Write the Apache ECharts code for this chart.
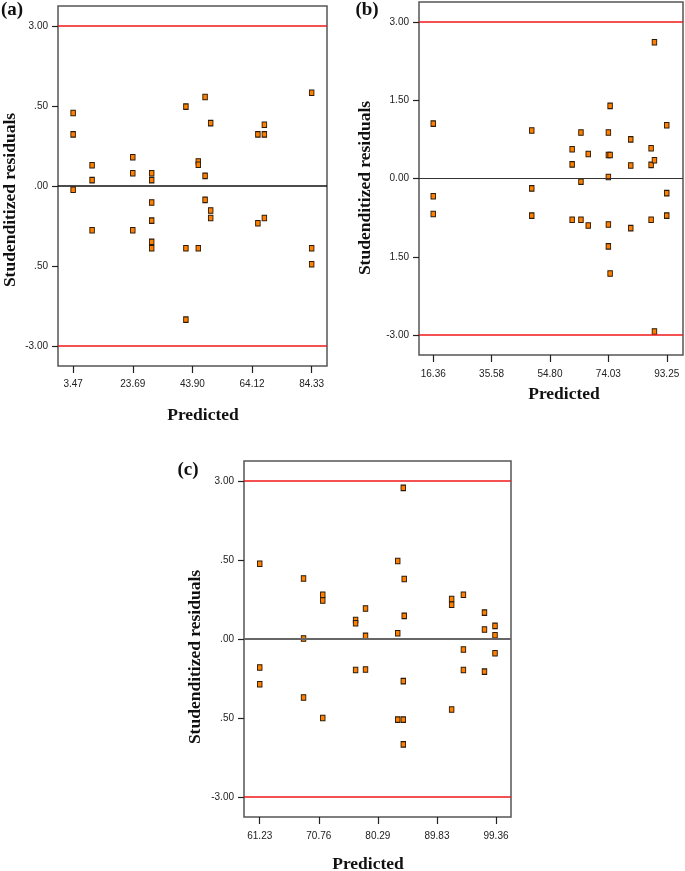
<!DOCTYPE html>
<html>
<head>
<meta charset="utf-8">
<script src="https://cdn.jsdelivr.net/npm/echarts@6/dist/echarts.min.js"></script>
<style>
html,body{margin:0;padding:0;background:#fff;}
#chart{width:685px;height:871px;}
</style>
</head>
<body>
<div id="chart"></div>
<script>
// ---- Data ----
const predA = [3.47,3.47,3.47, 9.9,9.9,9.9, 23.69,23.69,23.69, 30.1,30.1,30.1,30.1,30.1,30.1, 41.7,41.7,41.7, 45.9,45.9,45.9, 48.2,48.2,48.2, 50.1,50.1,50.1, 66.1,66.1, 68.3,68.3,68.3, 84.33,84.33,84.33];
const residA = [1.37,0.97,-0.07, 0.39,0.11,-0.83, 0.54,0.24,-0.83, 0.24,0.11,-0.31,-0.65,-1.05,-1.17, 1.49,-1.17,-2.51, 0.46,0.40,-1.17, 1.67,0.19,-0.26, 1.18,-0.46,-0.60, 0.97,-0.70, 1.15,0.97,-0.60, 1.75,-1.17,-1.47];

const predB = [16.36,16.36,16.36, 48.8,48.8,48.8, 62.1,62.1,62.1, 65.0,65.0,65.0, 67.4,67.4, 74.03,74.03,74.03,74.03,74.03, 74.6,74.6,74.6, 81.4,81.4,81.4, 88.1,88.1,88.1, 89.2,89.2,89.2, 93.25,93.25,93.25];
const residB = [1.05,-0.34,-0.68, 0.92,-0.19,-0.71, 0.56,0.27,-0.79, 0.88,-0.06,-0.79, 0.47,-0.90, 0.88,0.45,0.03,-0.88,-1.30, 1.39,0.45,-1.82, 0.75,0.25,-0.95, 0.58,0.26,-0.79, 2.61,0.35,-2.93, 1.02,-0.28,-0.71];

const predC = [61.23,61.23,61.23, 68.3,68.3,68.3, 71.4,71.4,71.4, 76.7,76.7,76.7, 78.3,78.3,78.3, 83.5,83.5,83.5, 84.4,84.4,84.4,84.4, 84.55,84.55, 92.2,92.2,92.2, 94.1,94.1,94.1, 97.5,97.5,97.5, 99.2,99.2,99.2];
const residC = [1.43,-0.54,-0.86, 1.15,0.01,-1.11, 0.84,0.73,-1.50, 0.36,0.30,-0.59, 0.58,0.06,-0.58, 1.48,0.11,-1.53, 2.87,-0.80,-1.53,-2.00, 1.14,0.44, 0.76,0.65,-1.34, 0.84,-0.20,-0.59, 0.50,0.18,-0.62, 0.25,0.07,-0.27];

const xTicksA = [3.47, 23.69, 43.90, 64.12, 84.33];
const xTicksB = [16.36, 35.58, 54.80, 74.03, 93.25];
const xTicksC = [61.23, 70.76, 80.29, 89.83, 99.36];

const yTickValues = [-3, -1.5, 0, 1.5, 3];
const yTickLabelsA = ['-3.00', '.50', '.00', '.50', '3.00'];
const yTickLabelsB = ['-3.00', '1.50', '0.00', '1.50', '3.00'];
const yTickLabelsC = ['-3.00', '.50', '.00', '.50', '3.00'];

const panelLabels = ['(a)', '(b)', '(c)'];
const xTitle = 'Predicted';
const yTitle = 'Studenditized residuals';
const limitValues = [3, -3];
// ---- End data ----

const chart = echarts.init(document.getElementById('chart'), null, {renderer: 'canvas'});

const serifBold = {fontFamily: '"Liberation Serif", "Times New Roman", serif', fontWeight: 'bold', fill: '#111'};

function zipPts(xs, ys) { return xs.map((x, i) => [x, ys[i]]); }

function makeX(idx, min, max, ticks, margin) {
  return {
    type: 'value', gridIndex: idx, min: min, max: max, position: 'bottom',
    axisLine: {show: false, onZero: false},
    splitLine: {show: false},
    axisTick: {show: true, customValues: ticks, length: 7, lineStyle: {color: '#222', width: 1.2}},
    axisLabel: {show: true, customValues: ticks, margin: margin, fontSize: 10,
      fontFamily: '"Liberation Sans", Arial, sans-serif', color: '#222',
      formatter: v => v.toFixed(2)}
  };
}
function makeY(idx, labels) {
  return {
    type: 'value', gridIndex: idx, min: -3.38, max: 3.38, position: 'left',
    axisLine: {show: false, onZero: false},
    splitLine: {show: false},
    axisTick: {show: true, customValues: yTickValues, length: 6, lineStyle: {color: '#222', width: 1.2}},
    axisLabel: {show: true, customValues: yTickValues, margin: 10, fontSize: 10,
      fontFamily: '"Liberation Sans", Arial, sans-serif', color: '#222',
      formatter: v => { const i = yTickValues.findIndex(t => Math.abs(t - v) < 1e-6); return i >= 0 ? labels[i] : ''; }}
  };
}
function lineSeries(idx, zeroColor, zeroWidth) {
  return {
    type: 'scatter', xAxisIndex: idx, yAxisIndex: idx, data: [], z: 1, silent: true,
    markLine: {
      symbol: 'none', silent: true, animation: false, label: {show: false},
      data: [
        {yAxis: limitValues[0], lineStyle: {color: '#f01818', width: 1.5, type: 'solid'}},
        {yAxis: limitValues[1], lineStyle: {color: '#f01818', width: 1.5, type: 'solid'}},
        {yAxis: 0, lineStyle: {color: zeroColor, width: zeroWidth, type: 'solid'}}
      ]
    }
  };
}
function pointSeries(idx, xs, ys) {
  return {
    type: 'scatter', xAxisIndex: idx, yAxisIndex: idx, z: 3,
    data: zipPts(xs, ys),
    symbol: 'rect', symbolSize: [4.5, 5.5],
    itemStyle: {color: '#ff8000', borderColor: '#2a1a08', borderWidth: 1, opacity: 1},
    animation: false
  };
}

const gridStyle = {show: true, borderColor: '#555', borderWidth: 1.5, backgroundColor: 'transparent', containLabel: false};

const option = {
  animation: false,
  backgroundColor: '#ffffff',
  grid: [
    Object.assign({left: 58, top: 6, width: 269, height: 360}, gridStyle),
    Object.assign({left: 419, top: 2, width: 264, height: 353}, gridStyle),
    Object.assign({left: 244, top: 461, width: 267, height: 356}, gridStyle)
  ],
  xAxis: [
    makeX(0, -1.66, 89.53, xTicksA, 13),
    makeX(1, 11.67, 98.6, xTicksB, 14),
    makeX(2, 58.69, 101.78, xTicksC, 14)
  ],
  yAxis: [
    makeY(0, yTickLabelsA),
    makeY(1, yTickLabelsB),
    makeY(2, yTickLabelsC)
  ],
  series: [
    lineSeries(0, '#111', 1.5),
    lineSeries(1, '#333', 1.2),
    lineSeries(2, '#666', 2),
    pointSeries(0, predA, residA),
    pointSeries(1, predB, residB),
    pointSeries(2, predC, residC)
  ],
  graphic: [
    {type: 'text', x: 12, y: 10, style: Object.assign({text: panelLabels[0], fontSize: 19, align: 'center', verticalAlign: 'middle'}, serifBold)},
    {type: 'text', x: 367, y: 10, style: Object.assign({text: panelLabels[1], fontSize: 19, align: 'center', verticalAlign: 'middle'}, serifBold)},
    {type: 'text', x: 188, y: 470, style: Object.assign({text: panelLabels[2], fontSize: 19, align: 'center', verticalAlign: 'middle'}, serifBold)},

    {type: 'text', x: 10, y: 200, rotation: Math.PI / 2, style: Object.assign({text: yTitle, fontSize: 17.5, align: 'center', verticalAlign: 'middle'}, serifBold)},
    {type: 'text', x: 365, y: 188, rotation: Math.PI / 2, style: Object.assign({text: yTitle, fontSize: 17.5, align: 'center', verticalAlign: 'middle'}, serifBold)},
    {type: 'text', x: 195, y: 657, rotation: Math.PI / 2, style: Object.assign({text: yTitle, fontSize: 17.5, align: 'center', verticalAlign: 'middle'}, serifBold)},

    {type: 'text', x: 203, y: 415, style: Object.assign({text: xTitle, fontSize: 17.5, align: 'center', verticalAlign: 'middle'}, serifBold)},
    {type: 'text', x: 564, y: 394, style: Object.assign({text: xTitle, fontSize: 17.5, align: 'center', verticalAlign: 'middle'}, serifBold)},
    {type: 'text', x: 368, y: 864, style: Object.assign({text: xTitle, fontSize: 17.5, align: 'center', verticalAlign: 'middle'}, serifBold)}
  ]
};
chart.setOption(option);
</script>
</body>
</html>
